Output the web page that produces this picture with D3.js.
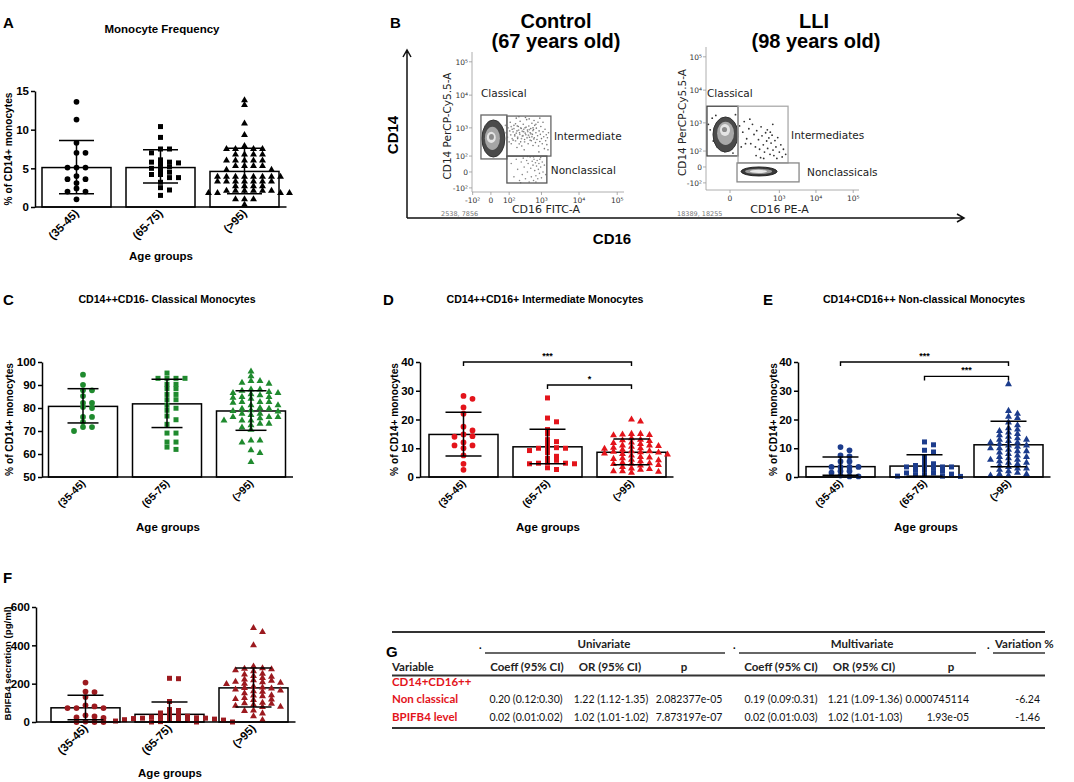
<!DOCTYPE html>
<html><head><meta charset="utf-8">
<script src="https://cdn.jsdelivr.net/npm/d3@7"></script>
<style>
body{margin:0;background:#fff;}
svg text{font-family:"Liberation Sans",Arial,sans-serif;}
</style></head>
<body>
<svg id="fig" width="1074" height="782" xmlns="http://www.w3.org/2000/svg"></svg>
<script>
// ---------------- DATA ----------------
const groups = ["(35-45)", "(65-75)", "(>95)"];

// Panel A: Monocyte frequency (% of CD14+ monocytes)
const aMeans = [5.1, 5.1, 4.6];
const aLow = [1.7, 3.1, 1.7];
const aHigh = [8.6, 7.4, 7.6];
const aYoung = [13.6, 11.3, 8.3, 7.0, 7.0, 5.1, 5.1, 5.1, 4.0, 3.6, 3.6, 3.1, 2.4, 2.0, 2.0, 1.0];
const aOld = [10.4, 9.0, 7.5, 7.5, 7.0, 6.1, 5.8, 5.8, 5.7, 5.5, 5.2, 5.0, 4.8, 4.5, 4.2, 4.2, 3.8, 3.8, 3.2, 2.5, 2.2, 1.5];
const aLLI = [13.8, 13.2, 10.8, 9.3, 7.9, 7.5, 7.5, 7.5, 7.5, 6.8, 6.8, 6.8, 6.8, 6.0, 6.0, 6.0, 6.0, 6.0,
  5.3, 5.3, 5.3, 5.3, 4.8, 4.8, 3.9, 3.9, 3.9, 3.9, 3.9, 3.9, 3.9, 3.9, 3.3, 3.3, 3.3, 3.3, 3.3, 3.3, 3.3,
  2.7, 2.7, 2.7, 2.7, 2.1, 2.1, 2.1, 2.1, 2.1, 2.1, 1.8, 1.8, 1.8, 1.8, 1.0, 1.0, 1.0, 0.3];

// Panel C: classical monocytes
const cMeans = [80.7, 81.8, 78.7];
const cLow = [73.5, 71.5, 70.3];
const cHigh = [88.4, 92.5, 87.5];
const cYoung = [94.5, 90.1, 87.7, 87.7, 85.2, 82.2, 82.2, 80.4, 80.0, 76.1, 76.1, 73.9, 71.7, 71.7, 70.0];
const cOld = [95.2, 92.9, 92.9, 92.9, 92.9, 90.3, 90.3, 88.4, 88.4, 85.9, 85.9, 83.6, 83.6, 81.2, 79.9, 79.0,
  76.5, 74.9, 72.9, 69.1, 69.1, 65.2, 65.2, 63.0, 62.0];
const cLLI = [95.9, 93.8, 91.7, 91.7, 91.0, 90.6, 88.0, 88.0, 87.5, 87.0, 86.5, 86.5, 86.0, 85.5, 84.8, 84.8,
  84.5, 84.0, 82.6, 82.6, 82.6, 82.3, 81.2, 81.2, 80.0, 79.7, 79.7, 79.0, 78.7, 78.5, 77.5, 77.5, 77.0, 76.1,
  76.1, 76.1, 75.5, 74.6, 74.6, 74.6, 73.2, 73.2, 72.5, 71.5, 70.5, 65.9, 65.9, 65.0, 61.6, 60.4, 56.5];

// Panel D: intermediate monocytes
const dMeans = [14.8, 10.5, 8.6];
const dLow = [7.3, 4.6, 4.3];
const dHigh = [22.5, 16.6, 13.2];
const dYoung = [28.2, 27.2, 24.2, 22.0, 17.5, 16.2, 14.8, 14.2, 14.0, 12.0, 11.0, 11.0, 10.0, 7.5, 4.6, 2.5];
const dOld = [27.5, 20.5, 19.2, 16.5, 15.0, 13.0, 12.3, 11.5, 10.2, 10.0, 10.0, 10.0, 9.2, 8.5, 7.2, 6.5,
  5.8, 5.0, 4.8, 4.8, 4.6, 4.6, 3.2, 2.6];
const dLLI = [20.0, 19.3, 15.0, 15.0, 14.8, 14.6, 14.5, 13.5, 13.0, 12.8, 12.5, 12.0, 11.8, 11.5, 11.0, 11.0,
  10.8, 10.5, 10.2, 10.0, 9.8, 9.5, 9.0, 9.0, 8.8, 8.6, 8.5, 8.2, 8.0, 7.8, 7.5, 7.0, 6.8, 6.5, 6.3, 6.0, 5.8,
  5.5, 5.0, 4.8, 4.6, 4.5, 4.2, 4.0, 3.5, 3.0, 2.8, 2.5, 2.0, 2.0, 1.8, 1.5];
const dSig = [{a: 0, b: 2, v: 40, s: "***"}, {a: 1, b: 2, v: 32, s: "*"}];

// Panel E: non-classical monocytes
const eMeans = [3.6, 3.8, 11.2];
const eLow = [0.6, 0.3, 3.6];
const eHigh = [7.0, 7.7, 19.4];
const eYoung = [10.4, 9.3, 7.5, 7.2, 5.4, 5.4, 3.5, 3.5, 3.5, 3.5, 2.0, 2.0, 1.5, 0.5, 0.2, 0.2];
const eOld = [12.2, 11.2, 9.3, 8.7, 7.0, 5.5, 4.6, 4.0, 4.0, 3.5, 3.5, 3.5, 3.0, 2.3, 2.3, 2.0, 1.4, 1.4,
  1.0, 0.6, 0.6, 0.3, 0.3, 0.2];
const eLLI = [32.3, 23.0, 22.0, 21.0, 20.5, 19.0, 18.0, 17.0, 16.5, 16.0, 15.5, 15.0, 14.5, 14.0, 13.5, 13.0,
  13.0, 12.5, 12.0, 12.0, 11.5, 11.0, 11.0, 10.5, 10.0, 10.0, 9.5, 9.0, 9.0, 8.5, 8.0, 7.5, 7.0, 7.0, 6.5,
  6.0, 6.0, 5.5, 5.0, 5.0, 4.5, 4.0, 3.5, 3.0, 3.0, 2.5, 2.0, 1.5, 1.0, 1.0, 0.5, 0.5];
const eSig = [{a: 0, b: 2, v: 40, s: "***"}, {a: 1, b: 2, v: 35, s: "***"}];

// Panel F: BPIFB4 secretion (pg/ml)
const fMeans = [74, 40, 178];
const fLow = [12, 0, 78];
const fHigh = [140, 104, 282];
const fYoung = [206, 159, 156, 130, 87, 81, 73, 73, 73, 35, 29, 24, 21, 2, 0, 0, 0];
const fOld = [228, 226, 107, 65, 60, 47, 40, 38, 30, 25, 25, 22, 20, 20, 18, 18, 15, 15, 12, 10, 8, 5, 2, 0, 0, 0];
const fLLI = [490, 470, 400, 290, 280, 278, 275, 270, 265, 252, 248, 240, 236, 230, 222, 218, 215, 210, 208,
  205, 200, 198, 185, 180, 178, 175, 170, 165, 160, 158, 150, 140, 138, 135, 125, 120, 118, 115, 100, 98, 95,
  90, 85, 80, 78, 60, 58, 45, 30, 10];
const fSig = [{a: 0, b: 2, v: 600, s: "***"}, {a: 1, b: 2, v: 527, s: "***"}, {a: 0, b: 1, v: 318, s: "*"}];

// Panel B: flow cytometry (CD16 value, CD14 value)
const flowTicks = [-100, 0, 100, 1000, 10000, 100000];
const flowTickLabels = ["-10²", "0", "10²", "10³", "10⁴", "10⁵"];
const lliXTicks = [0, 1000, 10000, 100000];
const lliXTickLabels = ["0", "10³", "10⁴", "10⁵"];
const ctrlGates = [
  {name: "Classical", x: [-41, 81], y: [73, 2500]},
  {name: "Intermediate", x: [81, 1800], y: [100, 2320]},
  {name: "Nonclassical", x: [81, 1400], y: [-57, 100]}];
const ctrlContours = [
  {x: [-36, 66], y: [90, 1760]}, {x: [-22, 36], y: [178, 1090]},
  {x: [-14, 17], y: [320, 750]}, {x: [-6, 10], y: [410, 640]}];
const ctrlComet = [[45,600],[55,900],[60,400],[70,1200],[75,700],[85,500],[90,1000],[100,350],[105,800],
  [115,600],[120,1100],[130,450],[140,750],[150,950],[160,550],[170,380],[180,680],[195,1150],[200,500],
  [215,850],[225,300],[235,620],[250,1000],[265,450],[280,780],[295,560],[310,900],[330,350],[345,680],
  [365,1050],[390,480],[410,760],[430,580],[455,880],[480,400],[505,650],[540,520],[575,820],[610,440]];
const ctrlInter = [[110,1500],[130,900],[150,1200],[160,600],[180,2000],[190,800],[200,450],[210,1100],
  [230,700],[240,1600],[250,350],[260,950],[280,550],[300,1300],[310,750],[330,420],[340,1000],[360,600],
  [380,1800],[400,850],[420,300],[440,1150],[460,500],[480,700],[500,950],[520,380],[540,1400],[560,620],
  [580,260],[600,880],[630,480],[650,1200],[680,330],[700,700],[720,980],[750,420],[780,560],[800,1500],
  [830,250],[860,800],[900,360],[930,620],[960,1100],[1000,450],[1050,300],[1100,750],[1150,520],[1200,200],
  [1250,900],[1300,380],[1350,600],[1400,280],[1450,480],[1500,180],[1550,700],[140,400],[170,1350],
  [220,2200],[270,250],[320,180],[350,2100],[450,1900],[620,1700],[900,2000],[1100,1500],[120,300],
  [190,220],[580,1000],[700,1300],[850,150]];
const ctrlNonc = [[120,40],[150,-20],[180,70],[200,10],[230,-40],[260,50],[280,-10],[300,80],[320,20],
  [350,-30],[380,60],[400,0],[420,40],[450,-50],[480,90],[500,15],[520,-20],[550,55],[580,30],[600,-40],
  [620,70],[650,5],[680,45],[700,-15],[730,25],[760,60],[790,-30],[820,10],[850,40],[880,-5],[900,70],
  [950,20],[1000,-25],[1050,50],[1100,0],[1200,30],[1300,-10],[400,95],[600,90],[250,-55],[700,-50],[950,85]];
const lliGates = [
  {name: "Classical", x: [-157, 32], y: [57, 3260]},
  {name: "Intermediates", x: [32, 1745], y: [16, 3260]},
  {name: "Nonclassicals", x: [27, 3490], y: [-90, 16]}];
const lliClassContours = [
  {x: [-93, 32], y: [90, 1525]}, {x: [-61, 14], y: [178, 1090]},
  {x: [-43, 0], y: [375, 925]}, {x: [-32, -10], y: [507, 745]}];
const lliNoncContours = [
  {x: [49, 860], y: [-43, 0]}, {x: [77, 620], y: [-31, -7]}, {x: [121, 440], y: [-26, -11]}];
const lliInter = [[40,800],[60,500],[70,1100],[90,300],[110,650],[130,200],[150,900],[170,420],[190,150],
  [210,560],[240,280],[260,120],[290,750],[310,380],[340,180],[370,90],[400,480],[430,250],[460,130],
  [500,320],[540,70],[580,210],[620,400],[660,110],[700,60],[750,260],[800,150],[850,40],[900,330],
  [1000,90],[1100,180],[1200,50],[1300,120],[1500,70],[80,200],[120,1300],[200,60],[350,40],[450,600],
  [650,900],[50,150],[30,350],[280,45],[550,500]];
const lliClassOut = [[-120,600],[-90,250],[-60,150],[-140,900],[10,80],[-30,110],[20,1800],[-100,1400],
  [0,140],[-70,1700],[25,300],[-20,95],[5,120]];

// Panel G: table
const tableGroups = ["Univariate", "Multivariate", "Variation %"];
const tableColumns = ["Variable", "Coeff (95% CI)", "OR (95% CI)", "p", "Coeff (95% CI)", "OR (95% CI)", "p"];
const tableRowLabels = [["CD14+CD16++", "Non classical"], ["BPIFB4 level"]];
const tableRowValues = [
  ["0.20 (0.12:0.30)", "1.22 (1.12-1.35)", "2.082377e-05", "0.19 (0.09:0.31)", "1.21 (1.09-1.36)", "0.000745114", "-6.24"],
  ["0.02 (0.01:0.02)", "1.02 (1.01-1.02)", "7.873197e-07", "0.02 (0.01:0.03)", "1.02 (1.01-1.03)", "1.93e-05", "-1.46"]];

// ---------------- DRAWING ----------------
const svg = d3.select("#fig");
const BOLD = "bold";

function txt(g, x, y, s, opts = {}) {
  const t = g.append("text").attr("x", x).attr("y", y).text(s)
    .attr("font-size", opts.size || 11).attr("font-weight", opts.weight || "normal")
    .attr("text-anchor", opts.anchor || "start").attr("fill", opts.fill || "#000");
  if (opts.family) t.style("font-family", opts.family);
  if (opts.rotate !== undefined) t.attr("transform", `rotate(${opts.rotate},${x},${y})`);
  return t;
}

// GraphPad-like scatter arrangement: points at similar height are spread sideways
function swarm(values, y, cx, step, wx, wy) {
  const pts = values.map(v => ({v, py: y(v)})).sort((a, b) => a.py - b.py);
  const placed = [];
  for (const p of pts) {
    for (let k = 0; k < 80; k++) {
      const off = k === 0 ? 0 : (k % 2 ? 1 : -1) * Math.ceil(k / 2) * step;
      if (placed.every(q => Math.abs(q.px - (cx + off)) >= wx || Math.abs(q.py - p.py) >= wy)) {
        p.px = cx + off; placed.push(p); break;
      }
    }
  }
  return placed;
}

function barPanel(o) {
  const g = svg.append("g");
  const x = d3.scaleBand().domain(groups).range([o.bx, o.bx + 252]).paddingInner(15 / 84).paddingOuter(7.5 / 84);
  const y = d3.scaleLinear().domain(o.domain).range([o.yb, o.yt]);
  const cx = d => x(d) + x.bandwidth() / 2;
  g.selectAll("rect").data(groups).join("rect")
    .attr("x", d => x(d)).attr("width", x.bandwidth())
    .attr("y", (d, i) => y(o.means[i])).attr("height", (d, i) => y(o.domain[0]) - y(o.means[i]))
    .attr("fill", "#fff").attr("stroke", "#000").attr("stroke-width", 1.5);
  const shapes = [d3.symbolCircle, d3.symbolSquare, d3.symbolTriangle];
  const sizes = [26, 25, 21];
  o.pts.forEach((arr, i) => {
    const placed = swarm(arr, y, cx(groups[i]), 4.5, 8.5, 4);
    g.append("g").selectAll("path").data(placed).join("path")
      .attr("d", d3.symbol().type(shapes[i]).size(sizes[i]))
      .attr("transform", d => `translate(${d.px},${d.py})`)
      .attr("fill", o.color);
  });
  const eb = g.append("g").attr("stroke", "#000").attr("stroke-width", 1.5).attr("fill", "none");
  groups.forEach((d, i) => {
    const c = cx(d), w = o.cap / 2;
    eb.append("line").attr("x1", c).attr("x2", c).attr("y1", y(o.low[i])).attr("y2", y(o.high[i]));
    eb.append("line").attr("x1", c - w).attr("x2", c + w).attr("y1", y(o.low[i])).attr("y2", y(o.low[i]));
    eb.append("line").attr("x1", c - w).attr("x2", c + w).attr("y1", y(o.high[i])).attr("y2", y(o.high[i]));
  });
  const ya = g.append("g").attr("transform", `translate(${o.ax},0)`)
    .call(d3.axisLeft(y).tickValues(o.ticks).tickSize(4).tickSizeOuter(0).tickPadding(2));
  ya.select(".domain").attr("stroke-width", 1.5);
  ya.selectAll(".tick line").attr("stroke-width", 1.5);
  ya.selectAll(".tick text").attr("font-size", 11.5).attr("font-weight", BOLD).attr("fill", "#000")
    .style("font-family", "'Liberation Sans',Arial,sans-serif");
  g.append("line").attr("x1", o.ax).attr("x2", o.bx + 252).attr("y1", o.yb).attr("y2", o.yb)
    .attr("stroke", "#000").attr("stroke-width", 1.5);
  groups.forEach(d => {
    txt(g, cx(d) + 3, o.yb + 7, d, {size: o.xls, weight: BOLD, anchor: "end", rotate: -45});
  });
  txt(g, o.agx, o.agy, "Age groups", {size: 11.5, weight: BOLD, anchor: "middle"});
  txt(g, o.ylx, (o.yb + o.yt) / 2 + (o.ylOff || 0), o.ylab, {size: o.yls || 10.2, weight: BOLD, anchor: "middle", rotate: -90});
  (o.sig || []).forEach(s => {
    const x1 = cx(groups[s.a]), x2 = cx(groups[s.b]), yy = y(s.v);
    g.append("path").attr("d", `M${x1},${yy + 4}V${yy}H${x2}V${yy + 4}`)
      .attr("fill", "none").attr("stroke", "#000").attr("stroke-width", 1.4);
    txt(g, (x1 + x2) / 2, yy - 3, s.s, {size: 9, weight: BOLD, anchor: "middle"});
  });
  return {x, y};
}

// Panel letters & titles
txt(svg, 3, 28, "A", {size: 15, weight: BOLD});
txt(svg, 162, 33, "Monocyte Frequency", {size: 11.5, weight: BOLD, anchor: "middle"});
txt(svg, 3, 305, "C", {size: 15, weight: BOLD});
txt(svg, 167, 303, "CD14++CD16- Classical Monocytes", {size: 10.6, weight: BOLD, anchor: "middle"});
txt(svg, 383, 305, "D", {size: 15, weight: BOLD});
txt(svg, 545, 303, "CD14++CD16+ Intermediate Monocytes", {size: 10.6, weight: BOLD, anchor: "middle"});
txt(svg, 763, 305, "E", {size: 15, weight: BOLD});
txt(svg, 924, 303, "CD14+CD16++ Non-classical Monocytes", {size: 10.6, weight: BOLD, anchor: "middle"});
txt(svg, 3, 583, "F", {size: 15, weight: BOLD});
txt(svg, 386, 657, "G", {size: 15, weight: BOLD});
txt(svg, 390, 28, "B", {size: 15, weight: BOLD});

barPanel({ax: 35, bx: 34.5, yb: 207, yt: 91, domain: [0, 15], ticks: [0, 5, 10, 15],
  means: aMeans, low: aLow, high: aHigh, pts: [aYoung, aOld, aLLI], color: "#000", cap: 35,
  xls: 11.5, agx: 161, agy: 260, ylx: 12, ylab: "% of CD14+ monocytes"});
barPanel({ax: 42, bx: 41, yb: 477, yt: 362, domain: [50, 100], ticks: [50, 60, 70, 80, 90, 100],
  means: cMeans, low: cLow, high: cHigh, pts: [cYoung, cOld, cLLI], color: "#1f8a2e", cap: 31,
  xls: 10.5, agx: 168, agy: 531, ylx: 13, ylab: "% of CD14+ monocytes"});
barPanel({ax: 420, bx: 421.5, yb: 477, yt: 362, domain: [0, 40], ticks: [0, 10, 20, 30, 40],
  means: dMeans, low: dLow, high: dHigh, pts: [dYoung, dOld, dLLI], color: "#e3141b", cap: 36,
  xls: 10.5, agx: 548, agy: 531, ylx: 398, ylab: "% of CD14+ monocytes", sig: dSig});
barPanel({ax: 798, bx: 798.5, yb: 477, yt: 362, domain: [0, 40], ticks: [0, 10, 20, 30, 40],
  means: eMeans, low: eLow, high: eHigh, pts: [eYoung, eOld, eLLI], color: "#1c3c8c", cap: 36,
  xls: 10.5, agx: 926, agy: 531, ylx: 777, ylab: "% of CD14+ monocytes", sig: eSig});
barPanel({ax: 36, bx: 43.5, yb: 722, yt: 607, domain: [0, 600], ticks: [0, 200, 400, 600],
  means: fMeans, low: fLow, high: fHigh, pts: [fYoung, fOld, fLLI], color: "#9c1a1f", cap: 36,
  xls: 11.5, agx: 170, agy: 777, ylx: 11, ylab: "BPIFB4 secretion (pg/ml)", yls: 9.6, ylOff: -1});

// ---------------- Panel B: flow cytometry ----------------
const FF = "'DejaVu Sans',Verdana,sans-serif";
function flowPlot(o) {
  const g = svg.append("g");
  const xs = d3.scaleSymlog().constant(50).domain(o.xd).range(o.xr);
  const ys = d3.scaleSymlog().constant(50).domain(o.yd).range(o.yr);
  const ax = g.append("g").attr("stroke", "#999").attr("stroke-width", 0.8);
  ax.append("line").attr("x1", o.xr[0]).attr("x2", o.xr[0]).attr("y1", o.yr[0]).attr("y2", o.yr[1]);
  ax.append("line").attr("x1", o.xr[0]).attr("x2", o.xr[1]).attr("y1", o.yr[0]).attr("y2", o.yr[0]);
  flowTicks.forEach((t, i) => {
    ax.append("line").attr("x1", o.xr[0] - 3).attr("x2", o.xr[0]).attr("y1", ys(t)).attr("y2", ys(t));
    txt(g, o.xr[0] - 4, ys(t) + 3, flowTickLabels[i], {size: 7.5, anchor: "end", fill: "#333", family: FF});
  });
  o.xt.forEach((t, i) => {
    ax.append("line").attr("x1", xs(t)).attr("x2", xs(t)).attr("y1", o.yr[0]).attr("y2", o.yr[0] + 3);
    txt(g, xs(t), o.yr[0] + 11, o.xtl[i], {size: 7.5, anchor: "middle", fill: "#333", family: FF});
  });
  txt(g, o.ylx, (o.yr[0] + o.yr[1]) / 2 + 4, "CD14 PerCP-Cy5.5-A", {size: 10.5, anchor: "middle", rotate: -90, family: FF, fill: "#222"});
  txt(g, (o.xr[0] + o.xr[1]) / 2 + o.xlOff, 213, o.xlab, {size: 11, anchor: "middle", family: FF, fill: "#222"});
  txt(g, o.cntX, 216, o.count, {size: 6.5, fill: "#777", family: FF});
  const ev = g.append("g");
  o.events.forEach(e => {
    ev.append("g").selectAll("circle").data(e.pts).join("circle")
      .attr("cx", d => xs(d[0])).attr("cy", d => ys(d[1])).attr("r", e.r).attr("fill", e.col);
  });
  o.contours.forEach(c => {
    c.levels.forEach((l, i) => {
      g.append("ellipse")
        .attr("cx", (xs(l.x[0]) + xs(l.x[1])) / 2).attr("cy", (ys(l.y[0]) + ys(l.y[1])) / 2)
        .attr("rx", Math.abs(xs(l.x[1]) - xs(l.x[0])) / 2).attr("ry", Math.abs(ys(l.y[1]) - ys(l.y[0])) / 2)
        .attr("fill", c.fills[i]).attr("stroke", c.strokes[i]).attr("stroke-width", 1);
    });
  });
  o.gates.forEach((gt, i) => {
    g.append("rect").attr("x", xs(gt.x[0])).attr("y", ys(gt.y[1]))
      .attr("width", xs(gt.x[1]) - xs(gt.x[0])).attr("height", ys(gt.y[0]) - ys(gt.y[1]))
      .attr("fill", "none").attr("stroke", o.gateCols[i]).attr("stroke-width", 1.3);
  });
  txt(g, xs(o.gates[0].x[0]), ys(o.gates[0].y[1]) - o.classLift, o.gates[0].name, {size: 10.5, family: FF, fill: "#222"});
  txt(g, xs(o.gates[1].x[1]) + 3, (ys(o.gates[1].y[0]) + ys(o.gates[1].y[1])) / 2 + 4, o.gates[1].name, {size: 10.5, family: FF, fill: "#222"});
  txt(g, xs(o.gates[2].x[1]) + o.ncOff, (ys(o.gates[2].y[0]) + ys(o.gates[2].y[1])) / 2 + 4, o.gates[2].name, {size: 10.5, family: FF, fill: "#222"});
}

flowPlot({xd: [-106, 150500], xr: [472, 624], yd: [-149, 197000], yr: [192, 52],
  xt: flowTicks, xtl: flowTickLabels, ylx: 451, xlab: "CD16 FITC-A", xlOff: -2, cntX: 441, count: "2538, 7856",
  events: [{pts: ctrlComet, r: 0.9, col: "#9a9a9a"}, {pts: ctrlInter, r: 0.8, col: "#777"}, {pts: ctrlNonc, r: 0.8, col: "#888"}],
  contours: [{levels: ctrlContours, fills: ["#4a4a4a", "#a5a5a5", "#e4e4e4", "#8a8a8a"], strokes: ["#333", "none", "none", "none"]}],
  gates: ctrlGates, gateCols: ["#666", "#666", "#555"], classLift: 18, ncOff: 4});
flowPlot({xd: [-170, 143000], xr: [706, 859], yd: [-195, 197000], yr: [190, 47],
  xt: lliXTicks, xtl: lliXTickLabels, ylx: 686, xlab: "CD16 PE-A", xlOff: -3, cntX: 677, count: "18389, 18255",
  events: [{pts: lliInter, r: 0.9, col: "#333"}, {pts: lliClassOut, r: 0.9, col: "#333"}],
  contours: [
    {levels: lliClassContours, fills: ["#4a4a4a", "#a8a8a8", "#e4e4e4", "#8a8a8a"], strokes: ["#333", "none", "none", "none"]},
    {levels: lliNoncContours, fills: ["#3a3a3a", "#9a9a9a", "#e8e8e8"], strokes: ["#222", "none", "none"]}],
  gates: lliGates, gateCols: ["#444", "#aaa", "#888"], classLift: 9, ncOff: 8});

const arr = svg.append("g").attr("stroke", "#111").attr("stroke-width", 1.5).attr("fill", "none");
arr.append("path").attr("d", "M407,218V50M403,57L407,50L411,57");
arr.append("path").attr("d", "M407,218H964M957,214L964,218L957,222");
txt(svg, 398, 135, "CD14", {size: 15, weight: BOLD, anchor: "middle", rotate: -90});
txt(svg, 612, 244, "CD16", {size: 15, weight: BOLD, anchor: "middle"});
txt(svg, 556, 28, "Control", {size: 20, weight: BOLD, anchor: "middle"});
txt(svg, 556, 48, "(67 years old)", {size: 20, weight: BOLD, anchor: "middle"});
txt(svg, 814, 28, "LLI", {size: 20, weight: BOLD, anchor: "middle"});
txt(svg, 816, 48, "(98 years old)", {size: 20, weight: BOLD, anchor: "middle"});

// ---------------- Panel G: table ----------------
const TF = "Lato,'Open Sans',sans-serif";
const tg = svg.append("g");
const lineCol = "#333";
tg.append("line").attr("x1", 392).attr("x2", 1045).attr("y1", 632).attr("y2", 632).attr("stroke", lineCol).attr("stroke-width", 2);
const grpSpan = [[485, 725], [739, 976], [993, 1045]];
const grpText = [604, 862, 995];
tableGroups.forEach((s, i) => {
  txt(tg, grpText[i], 648, s, {size: 11.5, weight: BOLD, anchor: i < 2 ? "middle" : "start", family: TF, fill: "#222"});
  tg.append("line").attr("x1", grpSpan[i][0]).attr("x2", grpSpan[i][1]).attr("y1", 653).attr("y2", 653)
    .attr("stroke", lineCol).attr("stroke-width", 1.6);
  txt(tg, grpSpan[i][0] - 6, 649, ".", {size: 11, weight: BOLD, family: TF});
});
const colX = [392, 527, 610, 684, 781, 864, 951];
tableColumns.forEach((s, i) => {
  txt(tg, colX[i], 671, s, {size: 11.5, weight: BOLD, anchor: i === 0 ? "start" : "middle", family: TF, fill: "#222"});
});
tg.append("line").attr("x1", 392).attr("x2", 1045).attr("y1", 675.5).attr("y2", 675.5).attr("stroke", lineCol).attr("stroke-width", 2);
const valX = [526, 611, 689, 781, 865, 969, 1040];
const valA = ["middle", "middle", "middle", "middle", "middle", "end", "end"];
const rowY = [703, 721];
tableRowLabels.forEach((lab, r) => {
  lab.forEach((s, k) => {
    txt(tg, 392, rowY[r] - (lab.length - 1 - k) * 17, s, {size: 11.5, weight: BOLD, family: TF, fill: "#e3141b"});
  });
  tableRowValues[r].forEach((v, i) => {
    txt(tg, valX[i], rowY[r], v, {size: 10.5, anchor: valA[i], family: TF, fill: "#111"});
  });
});
tg.append("line").attr("x1", 392).attr("x2", 1045).attr("y1", 728).attr("y2", 728).attr("stroke", lineCol).attr("stroke-width", 2);
</script>
</body></html>
